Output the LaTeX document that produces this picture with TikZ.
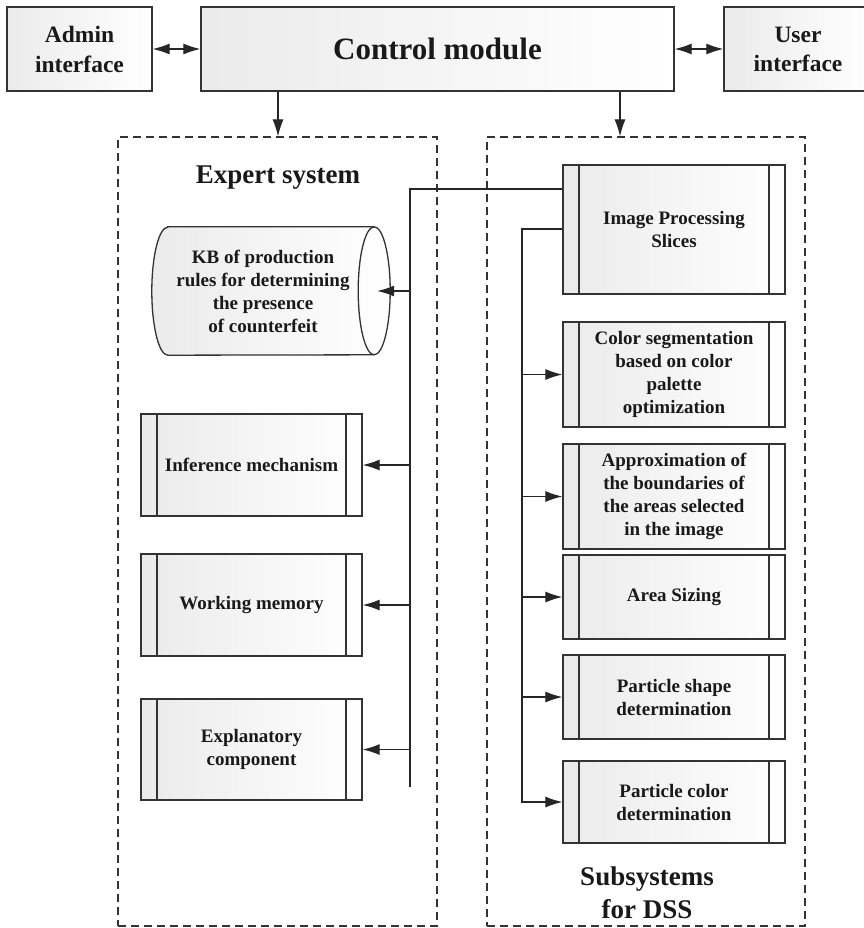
\documentclass[tikz,border=0pt]{standalone}
\usepackage{fontspec}
\setmainfont{Liberation Serif}
\usetikzlibrary{arrows.meta,calc}
\tikzset{
  lc/.style={draw=black!80, line width=1.3pt},
  box/.style={lc, left color=black!8, right color=white, inner sep=0pt, align=center, text=black!90},
  bt/.style={font=\bfseries\fontsize{19}{23}\selectfont},
  proc/.style={box, bt, path picture={
     \draw[black!80, line width=1.3pt]
       ([xshift=16pt]path picture bounding box.north west) -- ([xshift=16pt]path picture bounding box.south west)
       ([xshift=-16pt]path picture bounding box.north east) -- ([xshift=-16pt]path picture bounding box.south east);}},
  lbox/.style={proc, minimum width=221pt},
  rbox/.style={proc, minimum width=222pt},
  cont/.style={draw=black!80, line width=1.2pt, dash pattern=on 8pt off 5pt, inner sep=0pt},
  title/.style={font=\bfseries\fontsize{27}{33}\selectfont, align=center, text=black!90},
  conn/.style={draw=black!85, line width=1.2pt},
  tipa/.tip={Latex[length=17pt,width=11pt]},
  arr/.style={conn, -tipa},
  dbl/.style={conn, tipa-tipa}
}
\begin{document}
\begin{tikzpicture}[x=1pt,y=-1pt]
\useasboundingbox (0,0) rectangle (863,928);

% containers
\node[cont, minimum width=319pt, minimum height=789pt] (es) at (277.5,531.5) {};
\node[cont, minimum width=318pt, minimum height=789pt] (ss) at (646,531.5) {};
\node[title] (est) at (278,178) {Expert system};
\node[title] (sst) at (647,893) {Subsystems\\for DSS};

% top row
\node[box, minimum width=145pt, minimum height=84pt, font=\bfseries\fontsize{23.5}{30}\selectfont] (admin) at (79.5,49) {Admin\\interface};
\node[box, minimum width=473pt, minimum height=84pt, font=\bfseries\fontsize{31}{36}\selectfont] (control) at (437.5,49) {Control module};
\node[box, minimum width=148pt, minimum height=84pt, font=\bfseries\fontsize{23.5}{29}\selectfont] (user) at (798,49) {User\\interface};

\draw[dbl] (admin) -- (control);
\draw[dbl] (control) -- (user);
\coordinate (lx) at (278,0);
\coordinate (rx) at (620,0);
\draw[arr] (control.south -| lx) -- (es.north -| lx);
\draw[arr] (control.south -| rx) -- (ss.north -| rx);

% knowledge base cylinder
\node[bt, align=center, minimum width=222pt, minimum height=128pt, inner sep=0pt] (kb) at (263,291) {};
\path[box] ([xshift=16pt]kb.north west) -- (kb.north east)
   arc[start angle=90, end angle=-90, x radius=16pt, y radius=64pt]
   -- ([xshift=16pt]kb.south west)
   arc[start angle=270, end angle=90, x radius=16pt, y radius=64pt] -- cycle;
\draw[lc] (kb.north east) arc[start angle=90, end angle=270, x radius=16pt, y radius=64pt];
\node[bt, align=center, text=black!90] (kbt) at (kb.center) {KB of production\\rules for determining\\the presence\\of counterfeit};
\coordinate (kbin) at ([xshift=3pt]kb.east);

% left boxes
\node[lbox, minimum height=102pt] (inf) at (251.5,465) {Inference mechanism};
\node[lbox, minimum height=102pt] (wm) at (251.5,605) {Working memory};
\node[lbox, minimum height=101pt] (expl) at (251.5,749.5) {Explanatory\\component};

% right boxes
\node[rbox, minimum height=129pt] (ips) at (674,229.5) {Image Processing\\Slices};
\node[rbox, minimum height=105pt] (cs) at (674,374.5) {Color segmentation\\based on color\\palette\\optimization};
\node[rbox, minimum height=105pt] (apx) at (674,496.5) {Approximation of\\the boundaries of\\the areas selected\\in the image};
\node[rbox, minimum height=84pt] (area) at (674,597) {Area Sizing};
\node[rbox, minimum height=84pt] (psh) at (674,697) {Particle shape\\determination};
\node[rbox, minimum height=82pt] (pcol) at (674,802) {Particle color\\determination};

% connector to expert system
\coordinate (j1) at (410,189);
\coordinate (j1e) at (410,787);
\draw[conn] (ips.west |- j1) -- (j1) -- (j1e);
\draw[arr] (j1 |- kbin) -- (kbin);
\draw[arr] (j1 |- inf) -- (inf.east);
\draw[arr] (j1 |- wm) -- (wm.east);
\draw[arr] (j1 |- expl) -- (expl.east);

% connector within subsystems
\coordinate (j2) at (522,229);
\draw[arr] (ips.west |- j2) -- (j2) |- (pcol.west);
\draw[arr] (j2 |- cs) -- (cs.west);
\draw[arr] (j2 |- apx) -- (apx.west);
\draw[arr] (j2 |- area) -- (area.west);
\draw[arr] (j2 |- psh) -- (psh.west);
\end{tikzpicture}
\end{document}
